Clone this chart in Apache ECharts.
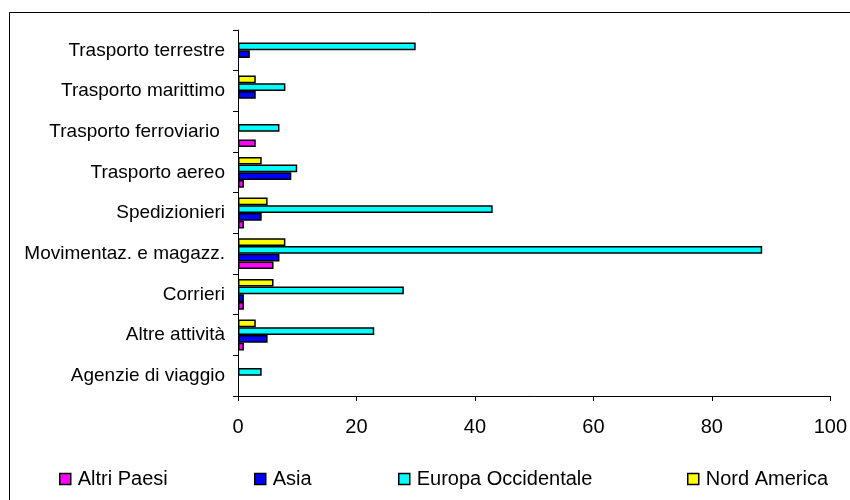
<!DOCTYPE html>
<html>
<head>
<meta charset="utf-8">
<script src="https://cdn.jsdelivr.net/npm/echarts@6/dist/echarts.min.js"></script>
<style>
  html, body { margin: 0; padding: 0; background: #fff; }
  #chart { width: 850px; height: 500px; }
</style>
</head>
<body>
<div id="chart"></div>
<script>
// categorie dal basso verso l'alto
const categories = ['Agenzie di viaggio', 'Altre attività', 'Corrieri', 'Movimentaz. e magazz.', 'Spedizionieri',
  'Trasporto aereo', 'Trasporto ferroviario ', 'Trasporto marittimo', 'Trasporto terrestre'];
const altriPaesi = [0, 1, 1, 6, 1, 1, 3, 0, 0];
const asia = [0, 5, 1, 7, 4, 9, 0, 3, 2];
const europaOcc = [4, 23, 28, 88.5, 43, 10, 7, 8, 30];
const nordAmerica = [0, 3, 6, 8, 5, 4, 0, 3, 0];
const seriesNames = ['Altri Paesi', 'Asia', 'Europa Occidentale', 'Nord America'];
const xTicks = [0, 20, 40, 60, 80, 100];

const font = 'Liberation Sans, Arial, sans-serif';
const myChart = echarts.init(document.getElementById('chart'), null, { renderer: 'canvas' });

// i valori nulli non vengono disegnati (come in Excel)
const mk = (name, data, color) => ({
  name, type: 'bar', data: data.map(v => (v === 0 ? '-' : v)),
  barGap: '0%', barCategoryGap: '24%',
  itemStyle: { color, borderColor: '#000', borderWidth: 1.5 }
});

// una legenda per voce, per rispettare le colonne originali
const legendLeft = [54, 249, 393, 682];
const legends = seriesNames.map((n, i) => ({
  left: legendLeft[i], top: 464, itemWidth: 11, itemHeight: 11, itemGap: 0,
  icon: 'rect',
  itemStyle: { borderColor: '#000', borderWidth: 1.5 },
  textStyle: { fontFamily: font, fontSize: 20, color: '#000', padding: [0, 0, 0, 2] },
  data: [n]
}));

myChart.setOption({
  animation: false,
  graphic: [{
    type: 'rect', shape: { x: 9.5, y: 12.5, width: 900, height: 600 },
    style: { fill: 'none', stroke: '#000', lineWidth: 1 }, silent: true
  }],
  grid: { left: 238, right: 16, top: 30, bottom: 104 },
  legend: legends,
  xAxis: {
    type: 'value', min: xTicks[0], max: xTicks[xTicks.length - 1], interval: 20,
    axisLine: { show: true, lineStyle: { color: '#000', width: 1 } },
    axisTick: { show: true, length: 5, lineStyle: { color: '#000' } },
    splitLine: { show: false },
    axisLabel: { margin: 21, fontFamily: font, fontSize: 20, color: '#000' }
  },
  yAxis: {
    type: 'category', data: categories,
    axisLine: { show: true, lineStyle: { color: '#000', width: 1 } },
    axisTick: { show: true, length: 5, lineStyle: { color: '#000' } },
    axisLabel: { margin: 13, fontFamily: font, fontSize: 19, color: '#000' }
  },
  series: [
    mk(seriesNames[3], nordAmerica, '#ffff00'),
    mk(seriesNames[2], europaOcc, '#00ffff'),
    mk(seriesNames[1], asia, '#0000ff'),
    mk(seriesNames[0], altriPaesi, '#ff00ff')
  ]
});
</script>
</body>
</html>
